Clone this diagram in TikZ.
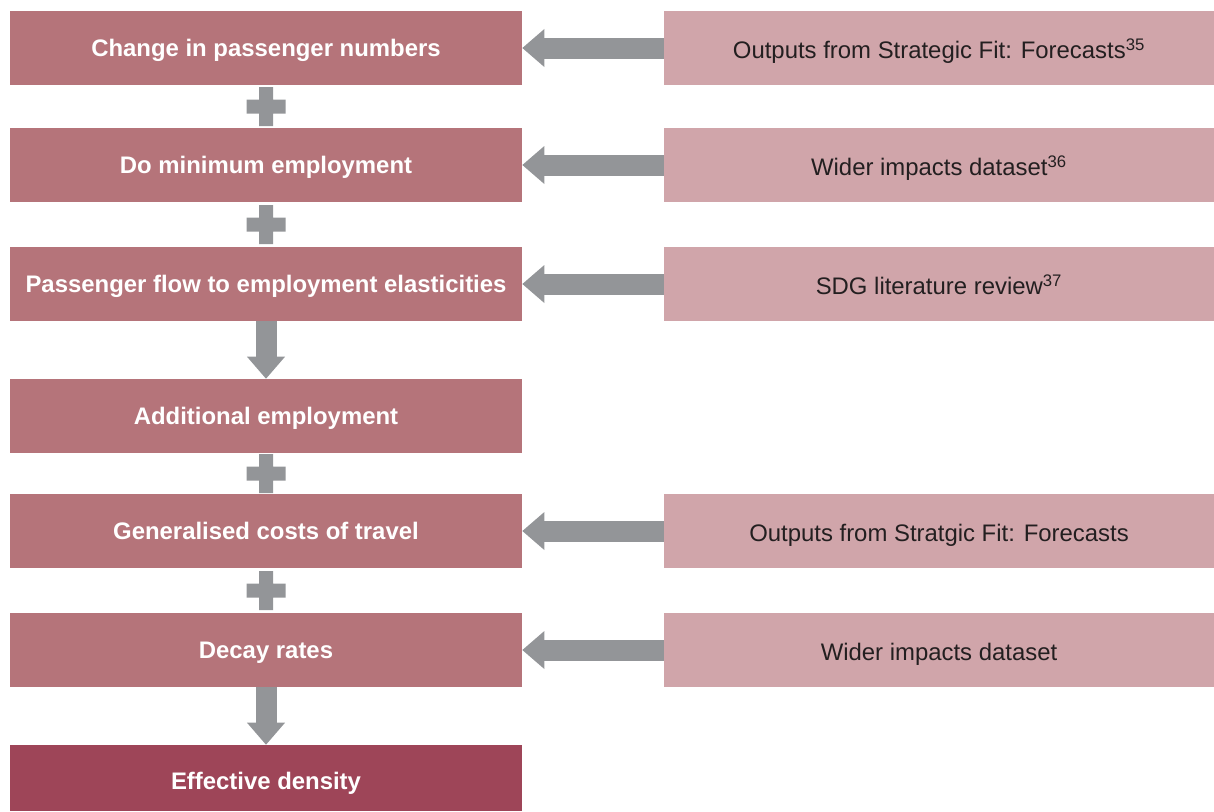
\documentclass[tikz,border=0pt]{standalone}
\usepackage{fontspec}
\setmainfont{Liberation Sans}
\usetikzlibrary{calc,arrows.meta}
\definecolor{stepred}{HTML}{B5747A}
\definecolor{resultred}{HTML}{9E4558}
\definecolor{sourcepink}{HTML}{D0A5AA}
\definecolor{arrowgrey}{HTML}{939598}
\definecolor{textblack}{HTML}{231F20}
\begin{document}
\begin{tikzpicture}[x=0.025cm, y=-0.025cm,
  stepbox/.style={minimum width=12.8cm, minimum height=1.85cm, inner sep=0pt, text height=13pt, text depth=1.6pt, fill=stepred, text=white, font=\fontsize{17}{20}\selectfont\bfseries},
  sourcebox/.style={minimum width=13.75cm, minimum height=1.85cm, inner sep=0pt, text height=17pt, text depth=1.4pt, fill=sourcepink, text=textblack, font=\fontsize{17}{20}\selectfont},
  feed/.style={draw=arrowgrey, line width=0.525cm, -{Triangle[length=0.55cm, width=0.95cm, line width=0pt]}}]
\useasboundingbox (0,0) rectangle (1214,811);
%steps on the left
\node[stepbox] (chg) at (266,48) {Change in passenger numbers};
\node[stepbox] (domin) at (266,165) {Do minimum employment};
\node[stepbox] (elast) at (266,284) {Passenger flow to employment elasticities};
\node[stepbox] (addemp) at (266,416) {Additional employment};
\node[stepbox] (gencost) at (266,531) {Generalised costs of travel};
\node[stepbox] (decay) at (266,650) {Decay rates};
%last box is cut by the page edge
\node[stepbox, fill=resultred, minimum height=1.65cm, text height=18pt] (effdens) at (266,778) {Effective density};
%sources on the right
\node[sourcebox] (fcast) at (939,48) {Outputs from Strategic Fit: Forecasts\textsuperscript{35}};
\node[sourcebox] (wider) at (939,165) {Wider impacts dataset\textsuperscript{36}};
\node[sourcebox] (sdg) at (939,284) {SDG literature review\textsuperscript{37}};
\node[sourcebox] (fcastb) at (939,531) {Outputs from Stratgic Fit: Forecasts};
\node[sourcebox] (widerb) at (939,650) {Wider impacts dataset};
%feeds into the steps
\draw[feed] (fcast.west) -- (chg.east);
\draw[feed] (wider.west) -- (domin.east);
\draw[feed] (sdg.west) -- (elast.east);
\draw[feed] (fcastb.west) -- (gencost.east);
\draw[feed] (widerb.west) -- (decay.east);
\draw[feed] (elast.south) -- (addemp.north);
\draw[feed] (decay.south) -- (effdens.north);
%plus signs
\foreach \a/\b in {chg/domin, domin/elast, addemp/gencost, gencost/decay}
  \fill[arrowgrey] ($(\a.south)!0.5!(\b.north)$) +(-19.5,-7) rectangle +(19.5,7) +(-7,-19.5) rectangle +(7,19.5);
\end{tikzpicture}
\end{document}
